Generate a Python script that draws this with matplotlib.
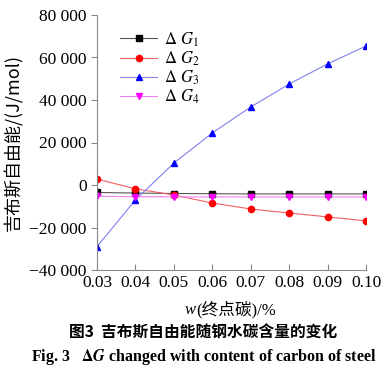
import matplotlib
matplotlib.use("Agg")
import matplotlib.pyplot as plt
from matplotlib.ticker import FuncFormatter

plt.rcParams['font.family'] = ['Liberation Serif', 'Noto Sans CJK SC']
plt.rcParams['mathtext.fontset'] = 'stix'

# carbon content at end point (%)
carbon = [0.03, 0.04, 0.05, 0.06, 0.07, 0.08, 0.09, 0.10]
# Gibbs free energy values (J/mol)
dG1 = [-3500, -3800, -4000, -4100, -4200, -4200, -4200, -4200]
dG2 = [2800, -1800, -4700, -8500, -11300, -13200, -15000, -16900]
dG3 = [-29000, -7000, 10300, 24500, 36700, 47500, 57000, 65400]
dG4 = [-5300, -5500, -5600, -5600, -5600, -5600, -5600, -5600]

fig = plt.figure(figsize=(3.9, 3.7), dpi=100)
ax = fig.add_axes([97/390, 1-270/370, 269/390, 255/370])

ax.plot(carbon, dG1, color='#555555', lw=0.8, marker='s', ms=4.5, mfc='black', mec='black', label=r'$\Delta\ G_1$')
ax.plot(carbon, dG2, color='#f06060', lw=0.8, marker='o', ms=4.5, mfc='red', mec='red', label=r'$\Delta\ G_2$')
ax.plot(carbon, dG3, color='#8080f0', lw=0.8, marker='^', ms=5, mfc='blue', mec='blue', label=r'$\Delta\ G_3$')
ax.plot(carbon, dG4, color='#f080f0', lw=0.8, marker='v', ms=5, mfc='magenta', mec='magenta', label=r'$\Delta\ G_4$')

ax.set_xlim(0.03, 0.10)
ax.set_ylim(-40000, 80000)
ax.set_xticks(carbon)
ax.set_xticklabels(['%.2f' % c for c in carbon])
ax.set_yticks(range(-40000, 80001, 20000))

def fmt(v, pos):
    s = '{:,}'.format(int(abs(v))).replace(',', ' ')
    return ('\u2212' + s) if v < 0 else s
ax.yaxis.set_major_formatter(FuncFormatter(fmt))

for side in ['top', 'right']:
    ax.spines[side].set_visible(False)
for side in ['left', 'bottom']:
    ax.spines[side].set_color('#888888')
    ax.spines[side].set_linewidth(0.8)
ax.tick_params(axis='y', direction='out', length=4, color='#888888', labelsize=12.5)
ax.tick_params(axis='x', direction='in', length=4, color='#888888', labelsize=12.5)

ax.set_ylabel('吉布斯自由能/(J/mol)', fontsize=13, family=['Noto Sans CJK SC', 'Liberation Serif'])

# x label: italic w followed by the Chinese part
xl = fig.text(236/390, 1 - 310/370, '(终点碳)/%', ha='center', va='center', fontsize=12)
fig.canvas.draw()
bb = xl.get_window_extent().transformed(fig.transFigure.inverted())
fig.text(bb.x0, 1 - 310/370, 'w', ha='right', va='center', fontsize=12, style='italic')

ax.legend(loc='upper left', bbox_to_anchor=(0.05, 0.98), frameon=False, fontsize=12,
          handlelength=2.2, labelspacing=0.05, borderaxespad=0.2, handletextpad=0.4)

fig.text(203/390, 1 - 333/370, '图3  吉布斯自由能随钢水碳含量的变化', ha='center', va='center',
         fontsize=11.3, fontweight='bold', family=['Noto Sans CJK SC', 'Liberation Serif'])
fig.text(204/390, 1 - 357/370, r'Fig. 3   $\mathbf{\Delta}\mathbfit{G}$ changed with content of carbon of steel',
         ha='center', va='center', fontsize=11.5, fontweight='bold')

fig.savefig('out.png', dpi=100)
